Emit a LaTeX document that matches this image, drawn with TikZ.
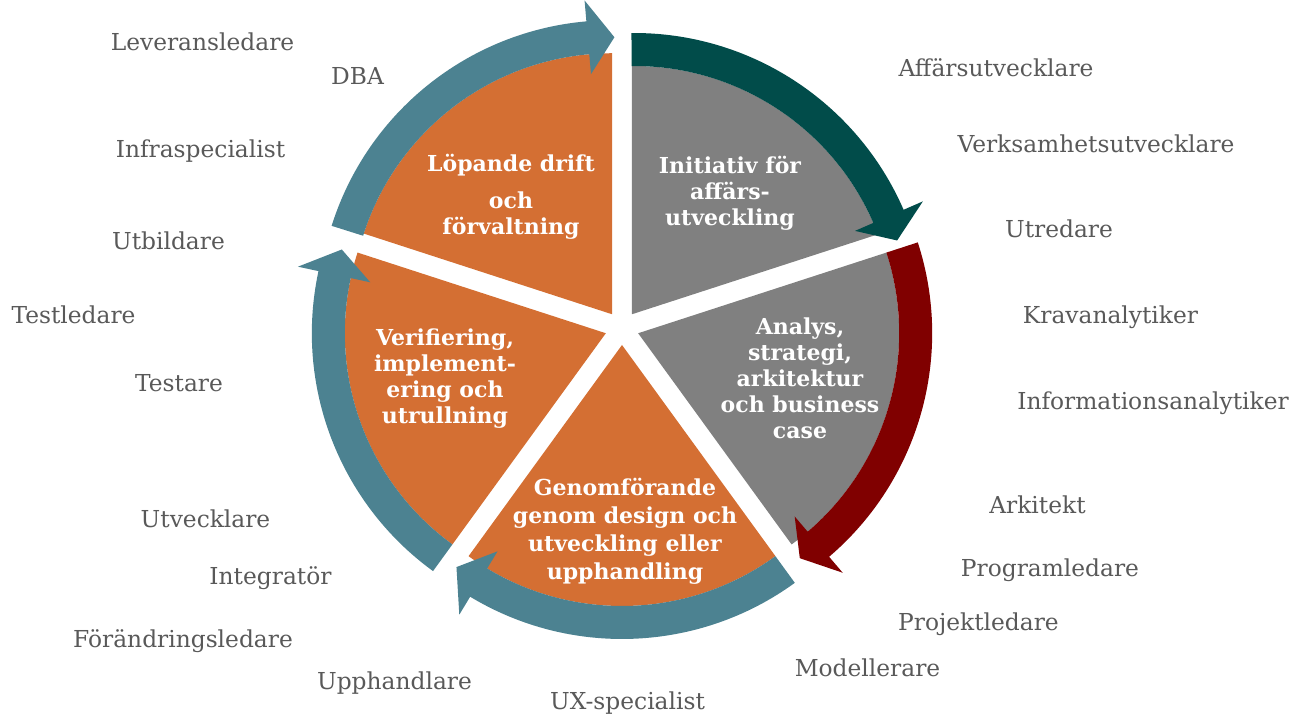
\documentclass[tikz,border=0pt]{standalone}
\usepackage{fontspec}
\setmainfont{DejaVu Serif}
\usetikzlibrary{calc}
\definecolor{orng}{RGB}{212,111,51}
\definecolor{wgray}{RGB}{128,128,128}
\definecolor{tealA}{RGB}{76,130,145}
\definecolor{dteal}{RGB}{1,76,74}
\definecolor{dred}{RGB}{128,0,0}
\definecolor{lblgray}{RGB}{89,89,89}
\newcommand\pieWedge[5]{%
  \begin{scope}
    \clip (#1) -- ($(#1)+(#2:700)$) -- ($(#1)+({(#2+#3)/2}:900)$) -- ($(#1)+(#3:700)$) -- cycle;
    \fill[#5] (#4) circle[radius=261];
  \end{scope}}
\newcommand\ringArrow[5]{%
  \fill[#5] ($(#1)+(#2:261)$) arc[start angle=#2, end angle=#3, radius=261]
    -- ($(#1)+(#3:241)$) -- ($(#1)+(#4:277)$) -- ($(#1)+(#3:315)$)
    -- ($(#1)+(#3:294)$) arc[start angle=#3, end angle=#2, radius=294] -- cycle;}
\tikzset{
  lbl/.style={text=lblgray, font=\fontsize{17.5}{20}\selectfont, inner sep=0pt, anchor=base},
  wtxt/.style={text=white, font=\fontsize{16.5}{19.5}\selectfont\bfseries, align=center, inner sep=0pt}
}
\begin{document}
\begin{tikzpicture}[x=0.75pt,y=0.75pt]
\useasboundingbox (0,0) rectangle (1293,716);
\coordinate (C) at (622,388);
\coordinate (TL) at ($(C)+(126:17)$);
\coordinate (TI) at ($(C)+(54:17)$);
\coordinate (EI) at (634,389);
\coordinate (TA) at ($(C)+(-18:17)$);
\coordinate (TG) at ($(C)+(-90:17)$);
\coordinate (TV) at ($(C)+(198:17)$);
% wedges
\pieWedge{TL}{90}{162}{TL}{orng}
\pieWedge{TI}{18}{90}{EI}{wgray}
\pieWedge{TA}{-54}{18}{TA}{wgray}
\pieWedge{TG}{234}{306}{TG}{orng}
\pieWedge{TV}{162}{234}{TV}{orng}
% ring arrows
\ringArrow{TL}{162.5}{95}{89.5}{tealA}
\ringArrow{EI}{90.5}{23.5}{18.2}{dteal}
\ringArrow{TA}{18}{-49.5}{-54.3}{dred}
\ringArrow{TG}{306}{238.9}{233.3}{tealA}
\ringArrow{TV}{234}{167.8}{162.4}{tealA}
% wedge texts
\node[wtxt] (lop) at (511,519.5) {Löpande drift\\[8pt]och\\förvaltning};
\node[wtxt] (ini) at (730,522.5) {Initiativ för\\affärs-\\utveckling};
\node[wtxt] (ana) at (800,337.5) {Analys,\\strategi,\\arkitektur\\och business\\case};
\node[wtxt] (ver) at (445,337.5) {Verifiering,\\implement-\\ering och\\utrullning};
\node[wtxt, font=\fontsize{16.5}{21}\selectfont\bfseries] (gen) at (625,185) {Genomförande\\genom design och\\utveckling eller\\upphandling};
% role labels left
\node[lbl] (l1) at (202.5,665.6) {Leveransledare};
\node[lbl] (l2) at (357.5,631.6) {DBA};
\node[lbl] (l3) at (200.5,558.6) {Infraspecialist};
\node[lbl] (l4) at (168.5,466.6) {Utbildare};
\node[lbl] (l5) at (73.5,392.6) {Testledare};
\node[lbl] (l6) at (179,324.6) {Testare};
\node[lbl] (l7) at (205.5,188.6) {Utvecklare};
\node[lbl] (l8) at (270.5,131.6) {Integratör};
\node[lbl] (l9) at (183,68.6) {Förändringsledare};
\node[lbl] (l10) at (394.5,26.6) {Upphandlare};
\node[lbl] (l11) at (627.5,6.6) {UX-specialist};
% role labels right
\node[lbl] (r1) at (996,639.6) {Affärsutvecklare};
\node[lbl] (r2) at (1096,563.6) {Verksamhetsutvecklare};
\node[lbl] (r3) at (1059,478.6) {Utredare};
\node[lbl] (r4) at (1110.5,392.6) {Kravanalytiker};
\node[lbl] (r5) at (1153,306.6) {Informationsanalytiker};
\node[lbl] (r6) at (1037.5,202.6) {Arkitekt};
\node[lbl] (r7) at (1050,139.6) {Programledare};
\node[lbl] (r8) at (978.5,85.6) {Projektledare};
\node[lbl] (r9) at (867.5,39.6) {Modellerare};
\end{tikzpicture}
\end{document}
